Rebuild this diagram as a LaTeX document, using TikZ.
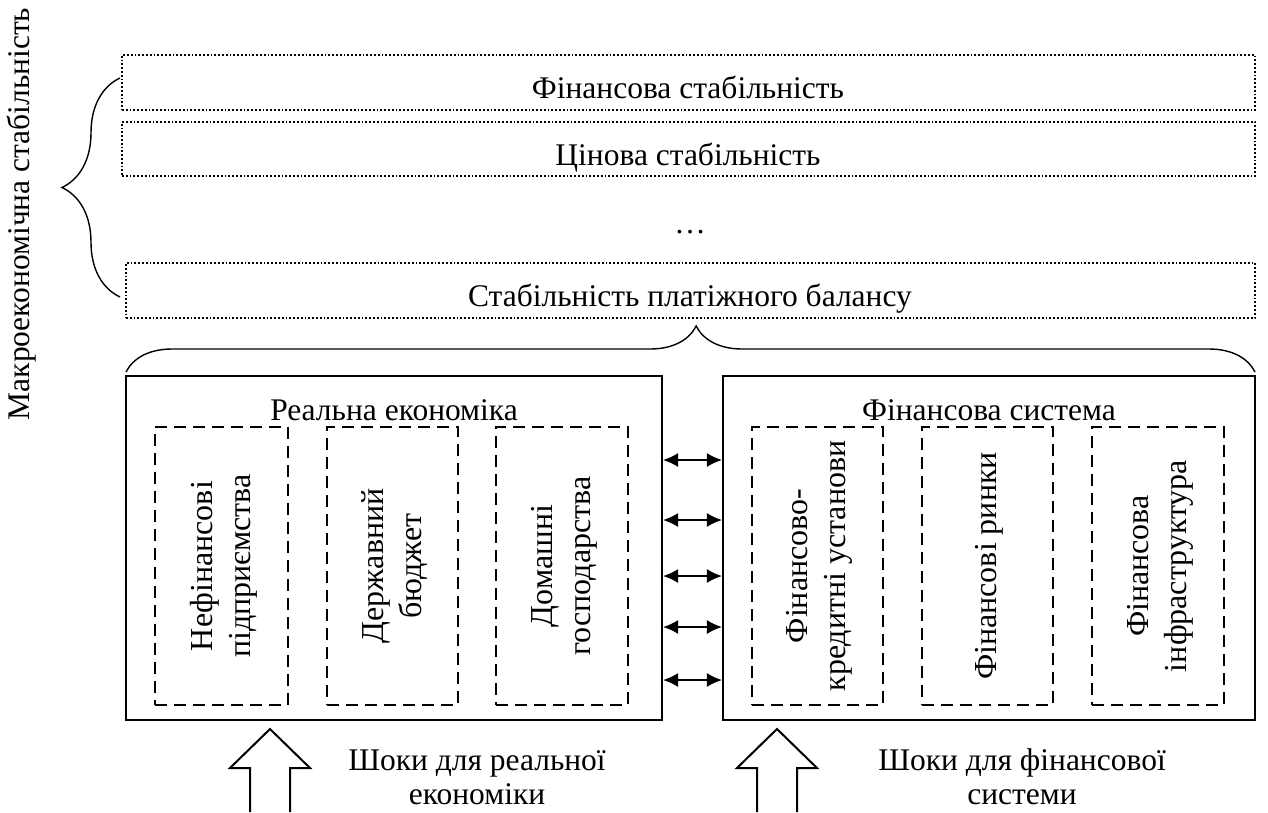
\documentclass[tikz,border=0pt]{standalone}
\usepackage{fontspec}
\setmainfont{Liberation Serif}
\usetikzlibrary{decorations.pathreplacing,arrows.meta}
\begin{document}
\begin{tikzpicture}[x=1pt,y=-1pt,
  dotbox/.style={draw, line width=1.8pt, dash pattern=on 1.8pt off 2pt, inner sep=0pt},
  dashbox/.style={draw, line width=2pt, dash pattern=on 12pt off 7pt, inner sep=0pt},
  outer/.style={draw, line width=2.2pt, inner sep=0pt},
  txt/.style={font=\fontsize{31.5}{34}\selectfont, inner sep=0pt},
  vtxt/.style={font=\fontsize{32}{38}\selectfont, inner sep=0pt, rotate=90, align=center},
  dbl/.style={{Latex[length=15pt,width=14pt]}-{Latex[length=15pt,width=14pt]}, line width=1.4pt},
  brc/.style={decorate, decoration={brace, amplitude=#1, aspect=0.5}, line width=1.4pt},
  blockarrow/.style={draw, line width=2pt, fill=white},
]
\useasboundingbox (0,0) rectangle (1268,812);

% stability boxes
\node[dotbox, minimum width=1133pt, minimum height=55pt] (fs) at (688.5,82.5) {};
\node[txt, anchor=base] (fst) at (688,98) {Фінансова стабільність};
\node[dotbox, minimum width=1133pt, minimum height=54pt] (ps) at (688.5,149) {};
\node[txt, anchor=base] (pst) at (688,165) {Цінова стабільність};
\node[txt, anchor=base] (dots) at (690,233) {…};
\node[dotbox, minimum width=1129pt, minimum height=55pt] (bp) at (690.5,290.5) {};
\node[txt, anchor=base] (bpt) at (690,306) {Стабільність платіжного балансу};

% left title and brace
\node[txt, rotate=90] (macro) at (22,214) {Макроекономічна стабільність};
\coordinate (lb1) at (120,297);
\coordinate (lb2) at (120,78);
\draw[brc=58pt] (lb1) -- (lb2);

% bottom brace
\coordinate (bb1) at (126,372);
\coordinate (bb2) at (1255,372);
\draw[brc=46pt, decoration={aspect=0.505}] (bb1) -- (bb2);

% outer boxes
\node[outer, minimum width=536pt, minimum height=344pt] (L) at (394,548) {};
\node[outer, minimum width=532pt, minimum height=344pt] (R) at (989,548) {};
\node[txt, anchor=base] (Lt) at (394,420) {Реальна економіка};
\node[txt, anchor=base] (Rt) at (989,420) {Фінансова система};

% inner dashed boxes
\node[dashbox, minimum width=133pt, minimum height=278pt] (L1) at (221.5,566) {};
\node[dashbox, minimum width=131pt, minimum height=278pt] (L2) at (392.5,566) {};
\node[dashbox, minimum width=132pt, minimum height=278pt] (L3) at (562,566) {};
\node[dashbox, minimum width=131pt, minimum height=278pt] (R1) at (817.5,566) {};
\node[dashbox, minimum width=131pt, minimum height=278pt] (R2) at (987.5,566) {};
\node[dashbox, minimum width=132pt, minimum height=278pt] (R3) at (1158,566) {};

\node[vtxt] (L1t) at ([xshift=2pt]L1) {Нефінансові\\підприємства};
\node[vtxt] (L2t) at ([xshift=2pt]L2) {Державний\\бюджет};
\node[vtxt] (L3t) at ([xshift=2pt]L3) {Домашні\\господарства};
\node[vtxt] (R1t) at ([xshift=2pt]R1) {Фінансово-\\кредитні установи};
\node[vtxt] (R2t) at ([xshift=2pt]R2) {Фінансові ринки};
\node[vtxt] (R3t) at ([xshift=2pt]R3) {Фінансова\\інфраструктура};

% double arrows
\foreach \yy in {460,520,576,627,680}
  \draw[dbl] (L.east |- 0,\yy) -- (R.west |- 0,\yy);

% shock arrows
\draw[blockarrow] (250,812) -- (250,768) -- (230,768) -- (270,729) -- (310,768) -- (290,768) -- (290,812);
\draw[blockarrow] (757,812) -- (757,768) -- (737,768) -- (777,729) -- (817,768) -- (797,768) -- (797,812);
\node[txt, align=center] (sL) at (477,777) {Шоки для реальної\\економіки};
\node[txt, align=center] (sR) at (1022,777) {Шоки для фінансової\\системи};
\end{tikzpicture}
\end{document}
